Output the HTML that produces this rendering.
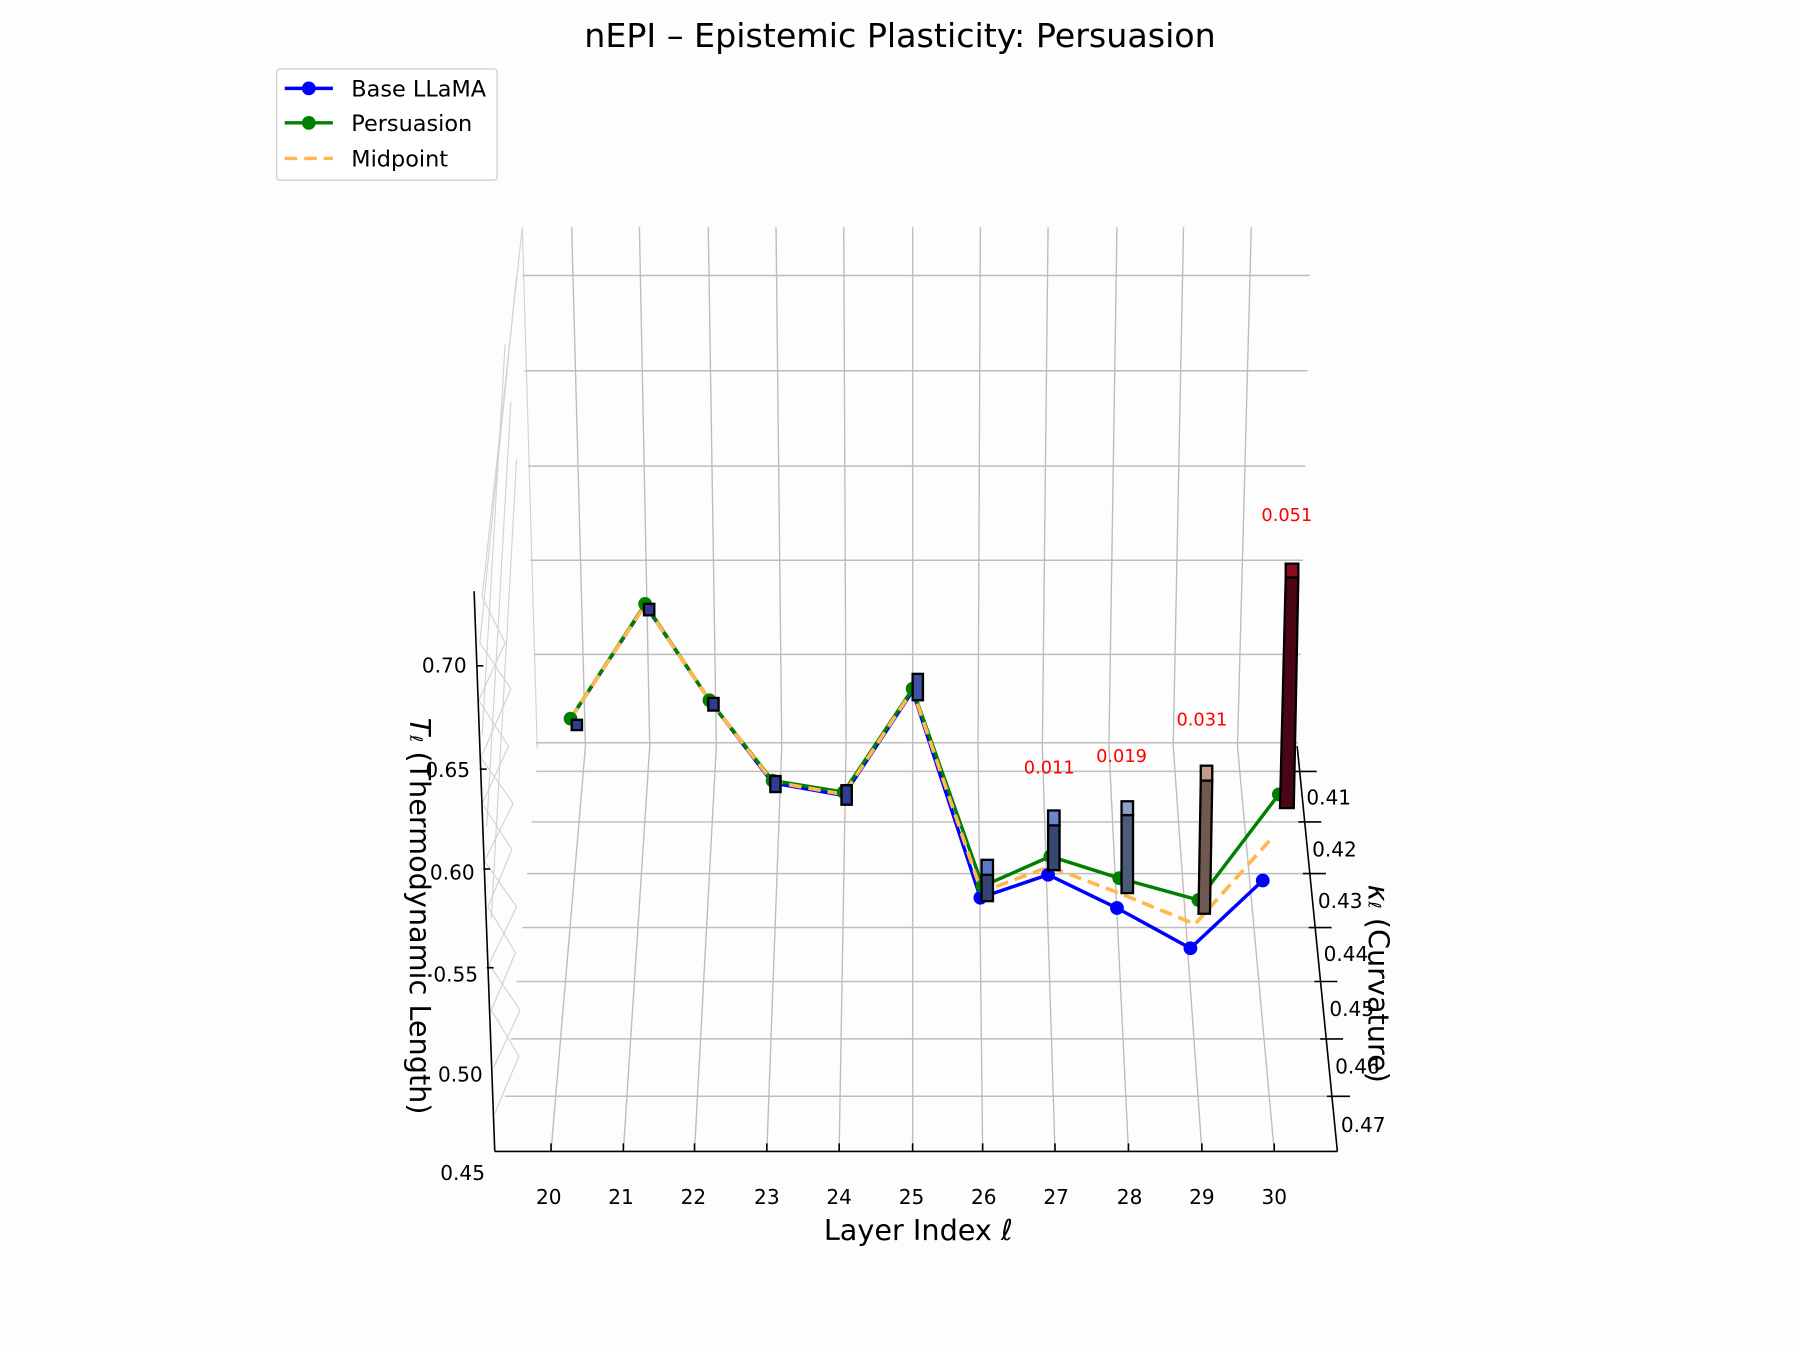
<!DOCTYPE html>
<html><head><meta charset="utf-8"><style>
html,body{margin:0;padding:0;background:#fdfdfd;}
svg{display:block;font-family:"DejaVu Sans","Liberation Sans",sans-serif;}
</style></head><body>
<svg width="1800" height="1350" viewBox="0 0 1568 1176" preserveAspectRatio="none" xmlns="http://www.w3.org/2000/svg">
<rect width="1568" height="1176" fill="#fdfdfd"/>
<text x="784" y="41" font-size="29" text-anchor="middle" fill="#000">nEPI – Epistemic Plasticity: Persuasion</text>

<!-- side wall faint lines -->
<g stroke="#c8c8c8" stroke-width="1" fill="none" opacity="0.8">
<polyline points="455,198 420,520 440,560 417,610 443,650 420,700 446,740 425,790 449,830 428,880 452,920 431,970"/>
<polyline points="450,240 418,560 445,600 419,660 447,700 422,750 450,790 426,840 453,880 430,930"/>
<line x1="455" y1="198" x2="468" y2="652"/>
<line x1="440" y1="300" x2="420" y2="640"/>
<line x1="445" y1="350" x2="424" y2="720"/>
<line x1="450" y1="400" x2="428" y2="800"/>
</g>

<g stroke="#bdbdbd" stroke-width="1.3">
<line x1="455" y1="240" x2="1141" y2="240"/>
<line x1="457" y1="323" x2="1139" y2="323"/>
<line x1="460" y1="406" x2="1137" y2="406"/>
<line x1="462" y1="488" x2="1135" y2="488"/>
<line x1="465" y1="570" x2="1133" y2="570"/>
<line x1="467" y1="647" x2="1131" y2="647"/>
<line x1="467" y1="672" x2="1133" y2="672"/>
<line x1="463" y1="716" x2="1137" y2="716"/>
<line x1="459" y1="761" x2="1141" y2="761"/>
<line x1="455" y1="808" x2="1146" y2="808"/>
<line x1="450" y1="855" x2="1151" y2="855"/>
<line x1="445" y1="905" x2="1156" y2="905"/>
<line x1="440" y1="955" x2="1161" y2="955"/>
</g>
<g stroke="#bdbdbd" stroke-width="1.2" fill="none">
<polyline points="498,198 510,650 480,1003"/>
<polyline points="557,198 566,650 543,1003"/>
<polyline points="617,198 624,650 605,1003"/>
<polyline points="676,198 681,650 668,1003"/>
<polyline points="735,198 737,650 731,1003"/>
<polyline points="795,198 795,650 795,1003"/>
<polyline points="854,198 852,650 856,1003"/>
<polyline points="913,198 908,650 919,1003"/>
<polyline points="973,198 966,650 983,1003"/>
<polyline points="1031,198 1022,650 1047,1003"/>
<polyline points="1090,198 1078,650 1110,1003"/>
</g>

<g stroke="#000" stroke-width="1.4" fill="none">
<line x1="413" y1="515" x2="431" y2="1003"/>
<line x1="431" y1="1003" x2="1165" y2="1003"/>
<line x1="1130" y1="650" x2="1165" y2="1003"/>
<line x1="480" y1="1003" x2="480" y2="996"/><line x1="543" y1="1003" x2="543" y2="996"/>
<line x1="605" y1="1003" x2="605" y2="996"/><line x1="668" y1="1003" x2="668" y2="996"/>
<line x1="731" y1="1003" x2="731" y2="996"/><line x1="795" y1="1003" x2="795" y2="996"/>
<line x1="856" y1="1003" x2="856" y2="996"/><line x1="919" y1="1003" x2="919" y2="996"/>
<line x1="983" y1="1003" x2="983" y2="996"/><line x1="1047" y1="1003" x2="1047" y2="996"/>
<line x1="1110" y1="1003" x2="1110" y2="996"/>
<line x1="1127" y1="672" x2="1147" y2="672"/>
<line x1="1131" y1="716" x2="1151" y2="716"/>
<line x1="1135" y1="761" x2="1155" y2="761"/>
<line x1="1140" y1="808" x2="1160" y2="808"/>
<line x1="1145" y1="855" x2="1165" y2="855"/>
<line x1="1150" y1="905" x2="1170" y2="905"/>
<line x1="1156" y1="955" x2="1176" y2="955"/>
<line x1="415" y1="580" x2="421" y2="580"/>
<line x1="418" y1="670" x2="424" y2="670"/>
<line x1="421" y1="757" x2="427" y2="757"/>
<line x1="424" y1="843" x2="430" y2="843"/>
</g>

<g font-size="17.5" fill="#000">
<text x="387" y="586" text-anchor="middle">0.70</text>
<text x="390" y="677" text-anchor="middle">0.65</text>
<text x="394" y="766" text-anchor="middle">0.60</text>
<text x="397" y="855" text-anchor="middle">0.55</text>
<text x="401" y="942" text-anchor="middle">0.50</text>
<text x="403" y="1028" text-anchor="middle">0.45</text>
<g text-anchor="middle">
<text x="478" y="1049">20</text><text x="541" y="1049">21</text><text x="604" y="1049">22</text>
<text x="668" y="1049">23</text><text x="731" y="1049">24</text><text x="794" y="1049">25</text>
<text x="857" y="1049">26</text><text x="920" y="1049">27</text><text x="984" y="1049">28</text>
<text x="1047" y="1049">29</text><text x="1110" y="1049">30</text>
</g>
<text x="1138" y="701">0.41</text>
<text x="1143" y="746">0.42</text>
<text x="1148" y="791">0.43</text>
<text x="1153" y="837">0.44</text>
<text x="1158" y="885">0.45</text>
<text x="1163" y="935">0.46</text>
<text x="1168" y="986">0.47</text>
</g>
<text x="800" y="1080" font-size="25" text-anchor="middle">Layer Index <tspan font-style="italic">ℓ</tspan></text>
<text transform="translate(357,798) rotate(90)" font-size="25" text-anchor="middle"><tspan font-style="italic">T</tspan><tspan font-size="15" font-style="italic">ℓ</tspan> (Thermodynamic Length)</text>
<text transform="translate(1192,857) rotate(90)" font-size="25" text-anchor="middle"><tspan font-style="italic">κ</tspan><tspan font-size="15" font-style="italic">ℓ</tspan> (Curvature)</text>

<polyline fill="none" stroke="#0000ff" stroke-width="3" points="497,626 562,527 618,610 673,682 735,693 795,602 854,782 913,762 973,791 1037,826 1100,767"/>
<polyline fill="none" stroke="#008000" stroke-width="3" points="497,626 562,526 618,610 673,680 735,690 795,600 856,772 915,746 975,765 1044,784 1114,692"/>
<polyline fill="none" stroke="#ffb84d" stroke-width="3.2" stroke-dasharray="11,6" points="497,626 562,527 618,610 673,681 735,692 795,601 855,777 914,755 975,778 1041,805 1107,731"/>
<g fill="#0000ff">
<circle cx="854" cy="782" r="6"/><circle cx="913" cy="762" r="6"/><circle cx="973" cy="791" r="6"/><circle cx="1037" cy="826" r="6"/><circle cx="1100" cy="767" r="6"/>
</g>
<g fill="#008000">
<circle cx="497" cy="626" r="6"/><circle cx="562" cy="526" r="6"/><circle cx="618" cy="610" r="6"/><circle cx="673" cy="680" r="6"/><circle cx="735" cy="690" r="6"/><circle cx="795" cy="600" r="6"/>
<circle cx="856" cy="772" r="6"/><circle cx="915" cy="746" r="6"/><circle cx="975" cy="765" r="6"/><circle cx="1044" cy="784" r="6"/><circle cx="1114" cy="692" r="6"/>
</g>

<g stroke="#000" stroke-width="2">
<rect x="498" y="627" width="9" height="9" fill="#2e3d8f"/>
<rect x="561" y="526" width="9" height="10" fill="#2e3d8f"/>
<rect x="617" y="608" width="9" height="11" fill="#2e3d8f"/>
<rect x="671" y="676" width="9" height="14" fill="#2e3d8f"/>
<rect x="733" y="684" width="9" height="17" fill="#2e3d8f"/>
<rect x="795" y="587" width="9" height="23" fill="#3a52a0"/>
<rect x="855" y="762" width="10" height="23" fill="#33426e"/><rect x="855" y="749" width="10" height="13" fill="#5a78c8"/>
<rect x="913" y="719" width="10" height="39" fill="#37476f"/><rect x="913" y="706" width="10" height="13" fill="#6a85c8"/>
<rect x="977" y="710" width="10" height="68" fill="#4c5c78"/><rect x="977" y="698" width="10" height="12" fill="#8ea2c8"/>
<polygon points="1046,680 1056,680 1054,796 1044,796" fill="#6e5a50"/><rect x="1046" y="667" width="10" height="13" fill="#c49a88"/>
<polygon points="1120,503 1131,503 1127,704 1115,704" fill="#4a0614"/><rect x="1120" y="491" width="11" height="12" fill="#8b0a20"/>
</g>
<g fill="#ff0000" font-size="15.5" text-anchor="middle">
<text x="914" y="674">0.011</text>
<text x="977" y="664">0.019</text>
<text x="1047" y="632">0.031</text>
<text x="1121" y="454">0.051</text>
</g>

<rect x="241" y="60" width="192" height="97" rx="3" fill="#fff" stroke="#d0d0d0" stroke-width="1.2"/>
<line x1="248" y1="77" x2="290" y2="77" stroke="#0000ff" stroke-width="3"/><circle cx="269" cy="77" r="6" fill="#0000ff"/>
<line x1="248" y1="107" x2="290" y2="107" stroke="#008000" stroke-width="3"/><circle cx="269" cy="107" r="6" fill="#008000"/>
<line x1="248" y1="138" x2="290" y2="138" stroke="#ffb84d" stroke-width="3" stroke-dasharray="11,6"/>
<g font-size="19.5" fill="#000">
<text x="306" y="84">Base LLaMA</text>
<text x="306" y="114">Persuasion</text>
<text x="306" y="145">Midpoint</text>
</g>
</svg>
</body></html>
